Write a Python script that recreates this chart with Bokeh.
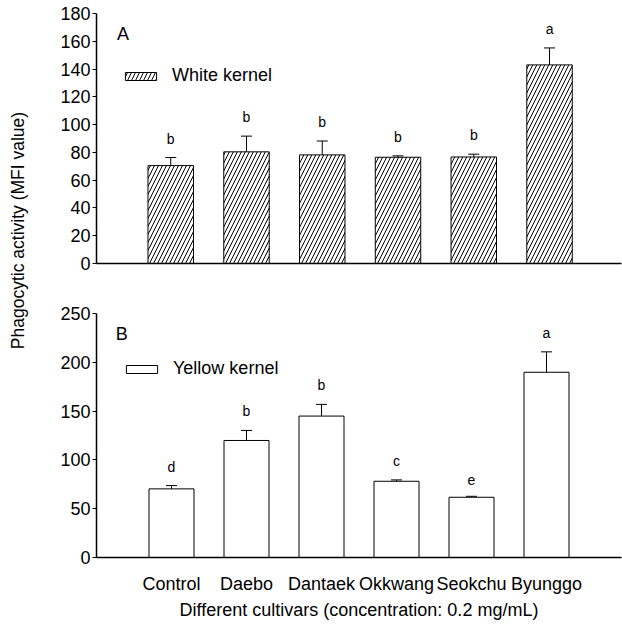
import math
from bokeh.plotting import figure
from bokeh.layouts import row, column
from bokeh.models import (ColumnDataSource, Whisker, TeeHead, FixedTicker, Legend,
                          LegendItem, Label, Range1d)
from bokeh.embed import file_html
from bokeh.resources import INLINE
from bokeh.core.properties import value

FONT = "Liberation Sans"

cultivars = ["Control", "Daebo", "Dantaek", "Okkwang", "Seokchu", "Byunggo"]
positions = [1, 2, 3, 4, 5, 6]

white_mean = [70.5, 80.4, 78.2, 76.5, 76.7, 143.0]
white_err = [5.8, 11.3, 10.0, 1.0, 2.0, 12.2]
white_letters = ["b", "b", "b", "b", "b", "a"]

yellow_mean = [70.3, 119.9, 144.9, 78.1, 61.7, 189.8]
yellow_err = [3.4, 10.3, 12.0, 1.4, 1.0, 20.9]
yellow_letters = ["d", "b", "b", "c", "e", "a"]

white_ticks = [0, 20, 40, 60, 80, 100, 120, 140, 160, 180]
yellow_ticks = [0, 50, 100, 150, 200, 250]


def panel(means, errs, letters, ticks, height, border_left, border_top, border_bottom,
          x_range, hatch, legend_label, legend_loc, panel_letter, panel_pos, bottom_axis):
    p = figure(width=584, height=height, x_range=Range1d(*x_range),
               y_range=Range1d(ticks[0], ticks[-1]), toolbar_location=None,
               output_backend="svg", min_border_left=border_left, min_border_right=1,
               min_border_top=border_top, min_border_bottom=border_bottom)
    p.outline_line_color = None
    p.grid.visible = False
    src = ColumnDataSource(dict(x=positions, top=means,
                                upper=[m + e for m, e in zip(means, errs)],
                                letter=letters))
    kw = dict(hatch_pattern="/", hatch_scale=8, hatch_weight=1, hatch_color="black") if hatch else {}
    r = p.vbar(x="x", top="top", bottom=0, width=0.6, source=src, fill_color="white",
               line_color="black", line_width=1, **kw)
    w = Whisker(base="x", upper="upper", lower="top", source=src, dimension="height",
                line_color="black", line_width=1,
                upper_head=TeeHead(size=11, line_color="black", line_width=1),
                lower_head=None)
    p.add_layout(w)
    p.text(x="x", y="upper", text="letter", source=src, text_align="center",
           text_baseline="bottom", y_offset=-11, text_font=value(FONT),
           text_font_size="14px", text_color="black")

    leg = Legend(items=[LegendItem(label=legend_label, renderers=[r])],
                 location=legend_loc, glyph_width=39, glyph_height=10,
                 label_standoff=12, padding=0, margin=0, border_line_color=None,
                 background_fill_alpha=0, label_text_font=FONT,
                 label_text_font_size="18px", label_text_color="black", label_height=10)
    p.add_layout(leg)

    p.add_layout(Label(x=panel_pos[0], y=panel_pos[1], text=panel_letter,
                       text_font=FONT, text_font_size="18px", text_color="black"))

    ya = p.yaxis[0]
    ya.ticker = FixedTicker(ticks=ticks)
    ya.major_tick_out = 4
    ya.major_tick_in = 0
    ya.minor_tick_line_color = None
    ya.major_label_standoff = 2
    ya.major_label_text_font = FONT
    ya.major_label_text_font_size = "18px"
    ya.major_label_text_color = "black"
    ya.axis_line_width = 1.5
    ya.axis_line_color = "black"

    xa = p.xaxis[0]
    xa.axis_line_width = 1.5
    xa.axis_line_color = "black"
    xa.major_tick_line_color = None
    xa.minor_tick_line_color = None
    if bottom_axis:
        xa.ticker = FixedTicker(ticks=positions)
        xa.major_label_overrides = {pos: name for pos, name in zip(positions, cultivars)}
        xa.major_label_standoff = 10
        xa.major_label_text_font = FONT
        xa.major_label_text_font_size = "18px"
        xa.major_label_text_color = "black"
        xa.axis_label = "Different cultivars (concentration: 0.2 mg/mL)"
        xa.axis_label_text_font = FONT
        xa.axis_label_text_font_size = "18px"
        xa.axis_label_text_font_style = "normal"
        xa.axis_label_text_color = "black"
        xa.axis_label_standoff = 3
    else:
        xa.ticker = FixedTicker(ticks=[])
    return p


top = panel(white_mean, white_err, white_letters, white_ticks, height=290,
            border_left=58, border_top=13, border_bottom=27, x_range=(0.02, 6.95),
            hatch=True, legend_label="White kernel", legend_loc=(25, 177),
            panel_letter="A", panel_pos=(0.29, 158), bottom_axis=False)

bottom = panel(yellow_mean, yellow_err, yellow_letters, yellow_ticks, height=334,
               border_left=53, border_top=23, border_bottom=67, x_range=(0.0, 7.0),
               hatch=False, legend_label="Yellow kernel", legend_loc=(26, 178),
               panel_letter="B", panel_pos=(0.255, 219), bottom_axis=True)

lab = figure(width=38, height=624, x_range=Range1d(0, 38), y_range=Range1d(0, 624),
             toolbar_location=None, output_backend="svg", min_border=0)
lab.outline_line_color = None
lab.axis.visible = False
lab.grid.visible = False
lab.add_layout(Label(x=17, y=394, text="Phagocytic activity (MFI value)", angle=math.pi / 2,
                     text_align="center", text_baseline="middle", text_font=FONT,
                     text_font_size="17.5px", text_color="black"))

layout = row(lab, column(top, bottom))

open("out.html", "w").write(file_html(layout, INLINE))
